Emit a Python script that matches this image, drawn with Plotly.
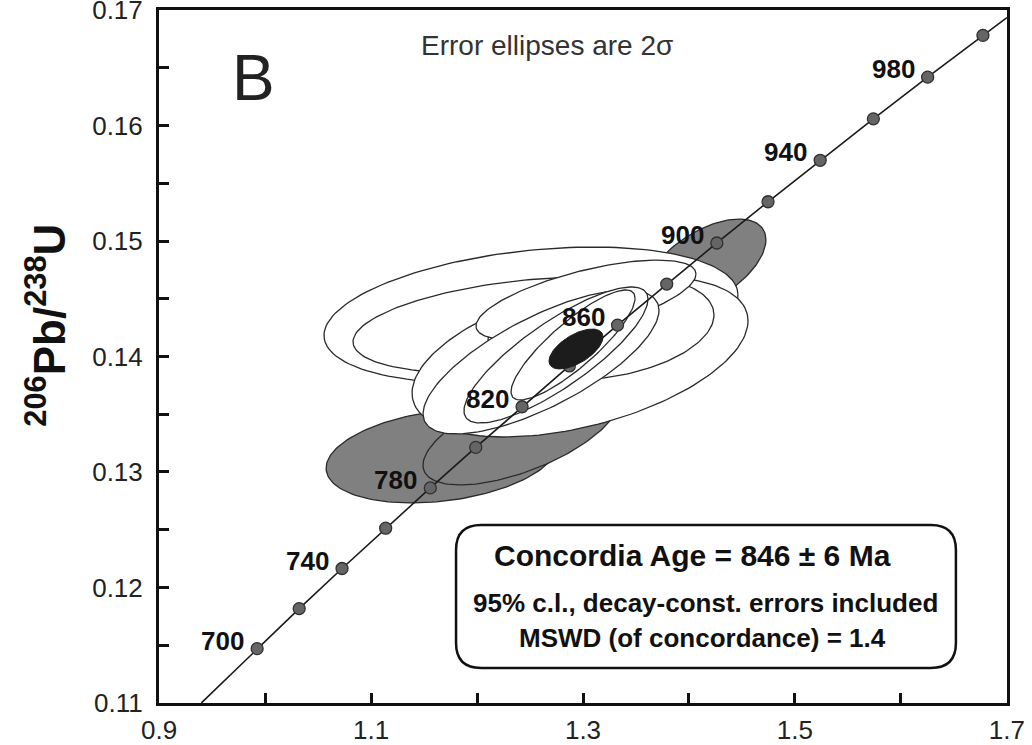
import numpy as np
import plotly.graph_objects as go

# ---- data -------------------------------------------------------------
# Concordia curve (207Pb/235U, 206Pb/238U) with age marks every 20 Ma
conc_ages = [700, 720, 740, 760, 780, 800, 820, 840, 860, 880, 900, 920, 940, 960, 980, 1000]
conc_x = [0.9925, 1.0322, 1.0726, 1.1138, 1.1559, 1.1988, 1.2425, 1.2871, 1.3326,
          1.3790, 1.4263, 1.4746, 1.5238, 1.5740, 1.6252, 1.6774]
conc_y = [0.11470, 0.11817, 0.12164, 0.12513, 0.12862, 0.13213, 0.13565, 0.13918, 0.14272,
          0.14627, 0.14983, 0.15340, 0.15699, 0.16058, 0.16419, 0.16781]
curve_start = (0.9399, 0.1100)
curve_end = (1.7000, 0.16934)
label_ages = [700, 740, 780, 820, 860, 900, 940, 980]

# Error ellipses: centre x, centre y, 2-sigma x, 2-sigma y, error correlation
grey_cx = [1.1670, 1.2415, 1.4160]
grey_cy = [0.13139, 0.13338, 0.14792]
grey_sx = [0.1094, 0.0925, 0.0566]
grey_sy = [0.00407, 0.00450, 0.00398]
grey_rho = [0.26, 0.62, 0.55]

white_cx = [1.2509, 1.2462, 1.2972, 1.3170, 1.3028, 1.2604, 1.2745, 1.2906]
white_cy = [0.14359, 0.14273, 0.13996, 0.14247, 0.14489, 0.13952, 0.14013, 0.14100]
white_sx = [0.1953, 0.1632, 0.1585, 0.1066, 0.1038, 0.1113, 0.0868, 0.0585]
white_sy = [0.00589, 0.00416, 0.00693, 0.00450, 0.00346, 0.00623, 0.00589, 0.00476]
white_rho = [0.30, 0.35, 0.45, 0.25, 0.65, 0.72, 0.82, 0.85]

conc_age_ellipse = dict(cx=1.2934, cy=0.14065, sx=0.0255, sy=0.00173, rho=0.60)

x_tickvals = [0.9, 1.0, 1.1, 1.2, 1.3, 1.4, 1.5, 1.6, 1.7]
x_ticktext = ["0.9", "", "1.1", "", "1.3", "", "1.5", "", "1.7"]
y_tickvals = [0.11, 0.115, 0.12, 0.125, 0.13, 0.135, 0.14, 0.145, 0.15, 0.155, 0.16, 0.165, 0.17]
y_ticktext = ["0.11", "", "0.12", "", "0.13", "", "0.14", "", "0.15", "", "0.16", "", "0.17"]

FONT = "Arial, Liberation Sans, sans-serif"


def ellipse_xy(cx, cy, sx, sy, rho, n=160):
    t = np.linspace(0, 2 * np.pi, n)
    x = cx + sx * np.cos(t)
    y = cy + sy * (rho * np.cos(t) + np.sqrt(1 - rho ** 2) * np.sin(t))
    return x, y


fig = go.Figure()

for i in range(len(grey_cx)):
    ex, ey = ellipse_xy(grey_cx[i], grey_cy[i], grey_sx[i], grey_sy[i], grey_rho[i])
    fig.add_trace(go.Scatter(x=ex, y=ey, mode="lines", fill="toself", fillcolor="#808080",
                             line=dict(color="#2a2a2a", width=1.3), hoverinfo="skip", showlegend=False))

for i in range(len(white_cx)):
    ex, ey = ellipse_xy(white_cx[i], white_cy[i], white_sx[i], white_sy[i], white_rho[i])
    fig.add_trace(go.Scatter(x=ex, y=ey, mode="lines", fill="toself", fillcolor="white",
                             line=dict(color="#2a2a2a", width=1.3), hoverinfo="skip", showlegend=False))

# concordia line
fig.add_trace(go.Scatter(x=[curve_start[0]] + conc_x + [curve_end[0]],
                         y=[curve_start[1]] + conc_y + [curve_end[1]],
                         mode="lines", line=dict(color="#1a1a1a", width=1.6),
                         hoverinfo="skip", showlegend=False))
# age marks
fig.add_trace(go.Scatter(x=conc_x, y=conc_y, mode="markers",
                         marker=dict(size=12, color="#656565", line=dict(color="#303030", width=1.3)),
                         hoverinfo="skip", showlegend=False))

# concordia age ellipse
ex, ey = ellipse_xy(**conc_age_ellipse)
fig.add_trace(go.Scatter(x=ex, y=ey, mode="lines", fill="toself", fillcolor="#1c1c1c",
                         line=dict(color="#1c1c1c", width=1), hoverinfo="skip", showlegend=False))

annotations = []
for age in label_ages:
    k = conc_ages.index(age)
    annotations.append(dict(x=conc_x[k], y=conc_y[k], xref="x", yref="y", text=f"<b>{age}</b>",
                            showarrow=False, xanchor="right", yanchor="middle", xshift=-11, yshift=8,
                            font=dict(family=FONT, size=26, color="#111")))

annotations += [
    dict(x=0.9887, y=0.16411, xref="x", yref="y", text="B", showarrow=False,
         font=dict(family=FONT, size=64, color="#222")),
    dict(x=1.266, y=0.16697, xref="x", yref="y", text="Error ellipses are 2σ", showarrow=False,
         font=dict(family=FONT, size=28, color="#333")),
    dict(x=1.4030, y=0.12281, xref="x", yref="y", text="<b>Concordia Age = 846 ± 6 Ma</b>",
         showarrow=False, font=dict(family=FONT, size=30, color="#111")),
    dict(x=1.4160, y=0.11866, xref="x", yref="y", text="<b>95% c.l., decay-const. errors included</b>",
         showarrow=False, font=dict(family=FONT, size=26, color="#111")),
    dict(x=1.4130, y=0.11563, xref="x", yref="y", text="<b>MSWD (of concordance) = 1.4</b>",
         showarrow=False, font=dict(family=FONT, size=26, color="#111")),
    dict(x=-0.134, y=0.545, xref="paper", yref="paper", xanchor="center", yanchor="middle",
         text="<b><sup>206</sup>Pb/<sup>238</sup>U</b>",
         showarrow=False, textangle=-90, font=dict(family=FONT, size=44, color="#111")),
]

# rounded box around the result text
bx0, bx1, by0, by1 = 1.1802, 1.6519, 0.11303, 0.12541
rx, ry = 0.0236, 0.00216
path = (f"M {bx0+rx},{by1} L {bx1-rx},{by1} Q {bx1},{by1} {bx1},{by1-ry} "
        f"L {bx1},{by0+ry} Q {bx1},{by0} {bx1-rx},{by0} L {bx0+rx},{by0} "
        f"Q {bx0},{by0} {bx0},{by0+ry} L {bx0},{by1-ry} Q {bx0},{by1} {bx0+rx},{by1} Z")

fig.update_layout(
    width=1032, height=745, autosize=False,
    margin=dict(l=159, r=25, t=10, b=42),
    paper_bgcolor="white", plot_bgcolor="white",
    showlegend=False,
    annotations=annotations,
    shapes=[dict(type="path", path=path, xref="x", yref="y",
                 line=dict(color="#111", width=2.5), fillcolor="white", layer="above")],
)
fig.update_xaxes(range=[0.8999, 1.7001], tickvals=x_tickvals, ticktext=x_ticktext,
                 ticks="inside", ticklen=10, tickwidth=3, tickcolor="#111",
                 showline=True, linewidth=3, linecolor="#111", mirror=True, automargin=False,
                 showgrid=False, zeroline=False, ticklabelstandoff=2, ticklabeloverflow="allow",
                 tickfont=dict(family=FONT, size=26, color="#222"))
fig.update_yaxes(range=[0.109995, 0.170005], tickvals=y_tickvals, ticktext=y_ticktext,
                 ticks="inside", ticklen=10, tickwidth=3, tickcolor="#111",
                 showline=True, linewidth=3, linecolor="#111", mirror=True, automargin=False,
                 showgrid=False, zeroline=False, ticklabelstandoff=8, ticklabeloverflow="allow",
                 tickfont=dict(family=FONT, size=26, color="#222"))

post = ("var de=document.documentElement,bd=document.body;"
        "de.style.margin='0';de.style.padding='0';de.style.overflow='hidden';"
        "bd.style.margin='0';bd.style.padding='0';bd.style.overflow='hidden';")

fig.write_html("out.html", post_script=post,
               config={"responsive": False, "displayModeBar": False})
